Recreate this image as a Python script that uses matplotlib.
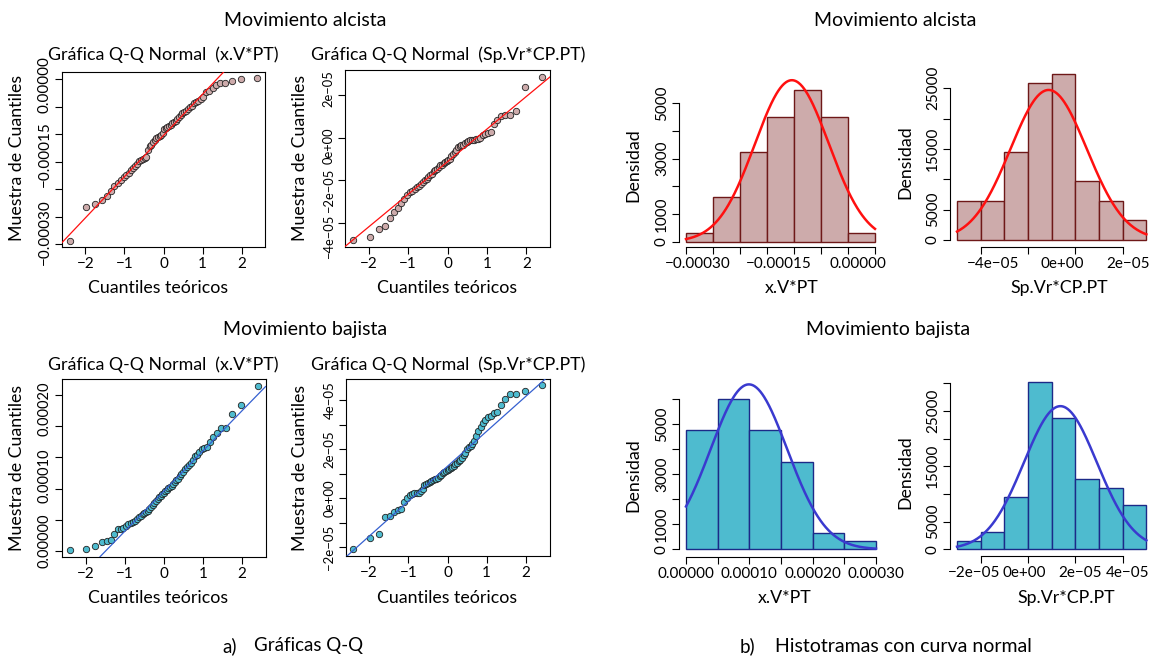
import numpy as np
import matplotlib
matplotlib.use("Agg")
import matplotlib.pyplot as plt
from matplotlib.transforms import ScaledTranslation
from statistics import NormalDist

plt.rcParams['font.family'] = ['Lato', 'DejaVu Sans']

W, H, DPI = 1153, 660, 100
SC = 1e-5  # values below are given in units of 1e-5

# ---------------- data (sorted samples, units of 1e-5) ----------------
alc_xv = np.array([-29.39, -23.17, -22.68, -21.89, -21.28, -20.37, -19.45, -18.90, -18.29, -17.81,
                   -17.50, -17.07, -16.59, -16.16, -15.79, -15.43, -14.88, -14.64, -14.45, -14.33,
                   -14.15, -12.93, -12.20, -11.95, -11.40, -10.98, -10.73, -10.49, -10.31, -10.12,
                   -9.76, -9.15, -8.96, -8.78, -8.54, -8.29, -8.05, -7.81, -7.56, -7.26,
                   -6.95, -6.59, -6.22, -5.92, -5.73, -5.37, -5.12, -4.82, -4.39, -4.15,
                   -3.90, -3.54, -3.29, -2.38, -2.07, -1.52, -1.10, -0.73, -0.61, -0.30,
                   -0.06, 0.12]) * SC
alc_sp = np.array([-4.81, -4.66, -4.26, -4.14, -3.74, -3.50, -3.31, -3.06, -2.87, -2.68,
                   -2.56, -2.48, -2.40, -2.32, -2.24, -2.18, -2.08, -1.97, -1.93, -1.86,
                   -1.77, -1.69, -1.58, -1.53, -1.45, -1.37, -1.29, -1.26, -1.20, -1.14,
                   -1.07, -1.03, -1.01, -0.85, -0.77, -0.66, -0.58, -0.44, -0.38, -0.35,
                   -0.32, -0.27, -0.22, -0.16, -0.13, -0.11, -0.09, -0.08, -0.05, -0.02,
                   0.13, 0.17, 0.21, 0.25, 0.63, 0.84, 1.02, 1.05, 1.06, 1.26,
                   2.38, 2.86]) * SC
baj_xv = np.array([0.16, 0.27, 0.81, 1.45, 1.61, 1.83, 2.69, 3.49, 3.60, 3.76,
                   4.03, 4.30, 4.57, 4.68, 4.84, 5.11, 5.38, 5.64, 5.91, 6.07,
                   6.29, 6.45, 6.72, 6.99, 7.37, 7.69, 8.06, 8.33, 8.60, 8.82,
                   9.14, 9.35, 9.57, 9.79, 10.05, 10.22, 10.48, 10.75, 11.02, 11.29,
                   11.56, 11.93, 12.26, 12.63, 13.12, 13.44, 13.71, 14.09, 14.52, 15.16,
                   15.32, 15.86, 16.24, 16.50, 16.67, 17.47, 18.17, 18.92, 19.62, 19.62,
                   21.88, 23.39, 26.45]) * SC
baj_sp = np.array([-2.08, -1.61, -1.44, -0.76, -0.72, -0.56, -0.49, -0.45, -0.15, 0.01,
                   0.12, 0.19, 0.20, 0.22, 0.23, 0.30, 0.39, 0.53, 0.57, 0.61,
                   0.66, 0.69, 0.73, 0.77, 0.80, 0.84, 0.91, 0.96, 1.02, 1.07,
                   1.11, 1.15, 1.18, 1.22, 1.28, 1.32, 1.38, 1.45, 1.51, 1.56,
                   1.66, 1.75, 1.86, 2.02, 2.10, 2.14, 2.20, 2.33, 2.54, 2.74,
                   2.92, 3.05, 3.19, 3.31, 3.35, 3.49, 3.53, 3.79, 4.03, 4.23,
                   4.23, 4.37, 4.61]) * SC

edges_alc_xv = np.array([-30, -25, -20, -15, -10, -5, 0, 5]) * SC
edges_alc_sp = np.array([-5, -4, -3, -2, -1, 0, 1, 2, 3]) * SC
edges_baj_xv = np.array([0, 5, 10, 15, 20, 25, 30]) * SC
edges_baj_sp = np.array([-3, -2, -1, 0, 1, 2, 3, 4, 5]) * SC

# tick values and labels
qq_xticks = [-2, -1, 0, 1, 2]
qq_xlabels = ['−2', '−1', '0', '1', '2']
qq1_yticks = np.array([-30, -25, -20, -15, -10, -5, 0]) * SC
qq1_ylabels = ['−0.00030', '', '', '−0.00015', '', '', '0.00000']
qq2_yticks = np.array([-4, -2, 0, 2]) * SC
qq2_ylabels = ['−4e−05', '−2e−05', '0e+00', '2e−05']
qq3_yticks = np.array([0, 5, 10, 15, 20, 25]) * SC
qq3_ylabels = ['0.00000', '', '0.00010', '', '0.00020', '']
qq4_yticks = np.array([-2, -1, 0, 1, 2, 3, 4]) * SC
qq4_ylabels = ['−2e−05', '', '0e+00', '', '2e−05', '', '4e−05']

h1_xticks = edges_alc_xv
h1_xlabels = ['−0.00030', '', '', '−0.00015', '', '', '0.00000', '']
h1_yticks = [0, 1000, 2000, 3000, 4000, 5000]
h1_ylabels = ['0', '1000', '', '3000', '', '5000']
h2_xticks = np.array([-4, -2, 0, 2]) * SC
h2_xlabels = ['−4e−05', '', '0e+00', '2e−05']
h2_yticks = [0, 5000, 10000, 15000, 20000, 25000]
h2_ylabels = ['0', '5000', '', '15000', '', '25000']
h3_xticks = edges_baj_xv
h3_xlabels = ['0.00000', '', '0.00010', '', '0.00020', '', '0.00030']
h3_yticks = [0, 1000, 2000, 3000, 4000, 5000, 6000]
h3_ylabels = ['0', '1000', '', '3000', '', '5000', '']
h4_xticks = np.array([-2, 0, 2, 4]) * SC
h4_xlabels = ['−2e−05', '0e+00', '2e−05', '4e−05']
h4_yticks = [0, 5000, 10000, 15000, 20000, 25000, 30000]
h4_ylabels = ['0', '5000', '', '15000', '', '25000', '']

# ---------------- styling ----------------
FS_LAB = 12.8
FS_TICK = 11
FS_BIG = 14
ROSE_FILL = '#CDABAB'
ROSE_EDGE = '#6E1818'
CYAN_FILL = '#4EBBCF'
NAVY_EDGE = '#1C2A88'
RED = '#FF1010'
BLUE = '#3A3ACF'
QQ_BLUE = '#3560D0'

fig = plt.figure(figsize=(W / DPI, H / DPI), dpi=DPI)


def add_ax(l, t, r, b):
    return fig.add_axes([l / W, 1 - b / H, (r - l) / W, (b - t) / H])


def map_lim(v0, p0, v1, p1, pa, pb):
    k = (v1 - v0) / (p1 - p0)
    return v0 + (pa - p0) * k, v0 + (pb - p0) * k


def ftext(x, y, s, fs=FS_LAB, **kw):
    fig.text(x / W, 1 - y / H, s, fontsize=fs, **kw)


def style_ticks(ax, yfs=FS_TICK):
    ax.tick_params(direction='out', length=4.8, width=0.8, labelsize=FS_TICK, pad=2.5)
    ax.tick_params(axis='y', labelsize=yfs)


def shift_labels(labels, offsets, axis):
    if offsets is None:
        return
    for lb, d in zip(labels, offsets):
        if axis == 'x':
            tr = ScaledTranslation(d / DPI, 0, fig.dpi_scale_trans)
        else:  # d in pixels downward
            tr = ScaledTranslation(0, -d / DPI, fig.dpi_scale_trans)
        lb.set_transform(lb.get_transform() + tr)


def qqplot(box, sample, fill, lcol, yticks, ylabels, yfs=FS_TICK, yoff=None):
    ax = add_ax(*box)
    s = np.sort(sample)
    n = len(s)
    nd = NormalDist()
    q = np.array([nd.inv_cdf((i - 0.5) / n) for i in range(1, n + 1)])
    ax.plot(q, s, 'o', ms=4.6, mfc=fill, mec='#222222', mew=0.6, zorder=2)
    y1, y2 = np.quantile(s, [0.25, 0.75])
    x1, x2 = nd.inv_cdf(0.25), nd.inv_cdf(0.75)
    ax.axline((x1, y1), slope=(y2 - y1) / (x2 - x1), color=lcol, lw=0.9, zorder=3)
    xr = q.max() - q.min()
    yr = s.max() - s.min()
    ax.set_xlim(q.min() - 0.04 * xr, q.max() + 0.04 * xr)
    ax.set_ylim(s.min() - 0.04 * yr, s.max() + 0.04 * yr)
    ax.set_xticks(qq_xticks)
    ax.set_xticklabels(qq_xlabels)
    ax.set_yticks(yticks)
    ax.set_yticklabels(ylabels, rotation=90, va='center')
    style_ticks(ax, yfs)
    shift_labels(ax.get_yticklabels(), yoff, 'y')
    for sp in ax.spines.values():
        sp.set_linewidth(0.8)
    return ax


def histplot(box, sample, edges, fill, ecol, ccol, xref, yref,
             xticks, xlabels, yticks, ylabels, xoff=None):
    ax = add_ax(*box)
    l, t, r, b = box
    ax.set_xlim(*map_lim(*xref, l, r))
    ax.set_ylim(*map_lim(*yref, b, t))
    ax.hist(sample, bins=edges, density=True, color=fill, edgecolor=ecol, linewidth=1.0)
    xs = np.linspace(edges[0], edges[-1], 300)
    mu, sd = sample.mean(), sample.std(ddof=1)
    pdf = np.exp(-0.5 * ((xs - mu) / sd) ** 2) / (sd * np.sqrt(2 * np.pi))
    ax.plot(xs, pdf, color=ccol, lw=1.8)
    ax.spines['top'].set_visible(False)
    ax.spines['right'].set_visible(False)
    ax.spines['left'].set_bounds(yticks[0], yticks[-1])
    ax.spines['bottom'].set_bounds(xticks[0], xticks[-1])
    for sp in ax.spines.values():
        sp.set_linewidth(0.8)
    ax.set_xticks(xticks)
    ax.set_xticklabels(xlabels)
    ax.set_yticks(yticks)
    ax.set_yticklabels(ylabels, rotation=90, va='center')
    style_ticks(ax)
    shift_labels(ax.get_xticklabels(), xoff, 'x')
    return ax


# ---------------- Q-Q plots ----------------
qqplot((62, 72, 265, 247.3), alc_xv, ROSE_FILL, RED, qq1_yticks, qq1_ylabels,
       yoff=[-12, 0, 0, -8, 0, 0, 5])
qqplot((345, 70, 550, 247), alc_sp, ROSE_FILL, RED, qq2_yticks, qq2_ylabels, yfs=9.3,
       yoff=[14, 10, 8, -6])
qqplot((62, 379, 265.5, 556.7), baj_xv, CYAN_FILL, QQ_BLUE, qq3_yticks, qq3_ylabels, yfs=10.5,
       yoff=[-10, 0, -13, 0, -17, 0])
qqplot((345.5, 378.5, 549.5, 556), baj_sp, CYAN_FILL, QQ_BLUE, qq4_yticks, qq4_ylabels, yfs=9.5)

# ---------------- histograms ----------------
histplot((679, 70, 882, 247.3), alc_xv, edges_alc_xv, ROSE_FILL, ROSE_EDGE, RED,
         (-30 * SC, 686, 5 * SC, 875), (0, 241.7, 5000, 103.3),
         h1_xticks, h1_xlabels, h1_yticks, h1_ylabels,
         xoff=[12, 0, 0, 12, 0, 0, 10, 0])
histplot((950, 65, 1152, 247.3), alc_sp, edges_alc_sp, ROSE_FILL, ROSE_EDGE, RED,
         (-4 * SC, 980.7, 2 * SC, 1122.7), (0, 240, 25000, 88.3),
         h2_xticks, h2_xlabels, h2_yticks, h2_ylabels,
         xoff=[12, 0, -13, 5])
histplot((679, 375, 883, 556.7), baj_xv, edges_baj_xv, CYAN_FILL, NAVY_EDGE, BLUE,
         (0, 686, 30 * SC, 876), (0, 549.3, 6000, 399.3),
         h3_xticks, h3_xlabels, h3_yticks, h3_ylabels)
histplot((950, 370, 1152, 556), baj_sp, edges_baj_sp, CYAN_FILL, NAVY_EDGE, BLUE,
         (-2 * SC, 980.7, 4 * SC, 1122.7), (0, 549.3, 30000, 383.3),
         h4_xticks, h4_xlabels, h4_yticks, h4_ylabels,
         xoff=[-7, -4, 5, 5])

# ---------------- texts ----------------
ct = dict(ha='center', va='center')
ftext(305, 20, 'Movimiento alcista', fs=FS_BIG, **ct)
ftext(895, 20, 'Movimiento alcista', fs=FS_BIG, **ct)
ftext(305, 330, 'Movimiento bajista', fs=FS_BIG, **ct)
ftext(888, 330, 'Movimiento bajista', fs=FS_BIG, **ct)
ftext(222, 646, 'a)', fs=13.5, ha='left', va='center')
ftext(254, 646, 'Gráficas Q-Q', fs=13.5, ha='left', va='center')
ftext(740, 646, 'b)', fs=13.5, ha='left', va='center')
ftext(775, 646, 'Histotramas con curva normal', fs=14, ha='left', va='center')

for y0 in (0, 310):
    ftext(163.5, 55 + y0, 'Gráfica Q-Q Normal  (x.V*PT)', **ct)
    ftext(448, 55 + y0, 'Gráfica Q-Q Normal  (Sp.Vr*CP.PT)', **ct)
    ftext(158, 288 + y0, 'Cuantiles teóricos', **ct)
    ftext(447.5, 288 + y0, 'Cuantiles teóricos', **ct)
    ftext(17, 158 + y0, 'Muestra de Cuantiles', rotation=90, **ct)
    ftext(300, 158 + y0, 'Muestra de Cuantiles', rotation=90, **ct)
    ftext(633, 165 + y0, 'Densidad', rotation=90, **ct)
    ftext(905, 162 + y0, 'Densidad', rotation=90, **ct)
ftext(792, 288, 'x.V*PT', **ct)
ftext(1059, 288, 'Sp.Vr*CP.PT', **ct)
ftext(785, 598, 'x.V*PT', **ct)
ftext(1066, 598, 'Sp.Vr*CP.PT', **ct)

fig.savefig('out.png', dpi=DPI)
